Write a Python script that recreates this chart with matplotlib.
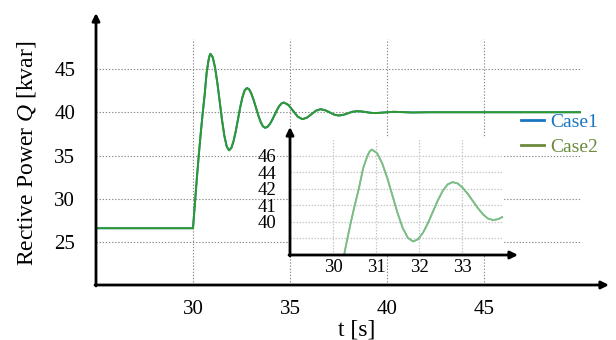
import matplotlib
matplotlib.use("Agg")
import matplotlib.pyplot as plt
from matplotlib.lines import Line2D
from matplotlib.patches import FancyArrowPatch

plt.rcParams['font.family'] = ['Liberation Serif', 'DejaVu Serif']
plt.rcParams['mathtext.fontset'] = 'custom'
plt.rcParams['mathtext.rm'] = 'Liberation Serif'
plt.rcParams['mathtext.it'] = 'Liberation Serif:italic'

# ---- data ----
t = [25.0, 30.0, 30.1, 30.2, 30.3, 30.4, 30.5, 30.6, 30.7, 30.8, 30.85, 30.9,
     31.02, 31.14, 31.26, 31.38, 31.50, 31.62, 31.74, 31.86,
     31.975, 32.09, 32.205, 32.32, 32.435, 32.55, 32.665, 32.78,
     32.90, 33.01, 33.13, 33.25, 33.37, 33.49, 33.60, 33.72,
     33.84, 33.96, 34.08, 34.20, 34.32, 34.44, 34.56, 34.68,
     34.92, 35.16, 35.40, 35.64,
     35.87, 36.11, 36.34, 36.57,
     36.80, 37.04, 37.27, 37.50,
     37.74, 37.98, 38.21, 38.45,
     38.69, 38.93, 39.16, 39.40,
     39.88, 40.35, 40.83, 41.30, 42.20, 50.0]
q_case1 = [26.6, 26.6, 29.5, 32.4, 35.1, 37.6, 39.9, 42.0, 44.5, 46.0, 46.5, 46.75,
           46.33, 45.12, 43.31, 41.18, 39.04, 37.23, 36.03, 35.6,
           35.87, 36.65, 37.82, 39.2, 40.58, 41.75, 42.53, 42.8,
           42.63, 42.13, 41.38, 40.5, 39.62, 38.87, 38.38, 38.2,
           38.31, 38.63, 39.10, 39.66, 40.22, 40.69, 41.01, 41.12,
           40.84, 40.16, 39.48, 39.2,
           39.37, 39.78, 40.18, 40.35,
           40.24, 39.99, 39.73, 39.62,
           39.69, 39.87, 40.05, 40.12,
           40.09, 40.01, 39.93, 39.90,
           39.975, 40.05, 40.01, 39.97, 40.0, 40.0]
q_case2 = list(q_case1)

series_labels = ['Case1', 'Case2']
x_ticks = [30, 35, 40, 45]
y_ticks = [25, 30, 35, 40, 45]
inset_x_ticks = [30, 31, 32, 33]
inset_y_ticks = [36, 38, 40, 42, 44, 46]
inset_y_labels = ['', '40', '41', '42', '44', '46']

W, H = 616, 340
fig = plt.figure(figsize=(W / 100, H / 100), dpi=100)

def fx(px):
    return px / W

def fy(py):
    return 1 - py / H

# ---- main axes ----
L, R, T, B = 96, 581, 39, 285
ax = fig.add_axes([fx(L), fy(B), fx(R) - fx(L), fy(T) - fy(B)])
ax.plot(t, q_case1, color='#1f77c4', lw=1.4, zorder=2)
ax.plot(t, q_case2, color='#2e9a2e', lw=1.4, zorder=3)
ax.set_xlim(25, 50)
ax.set_ylim(20.04, 48.46)
ax.set_xticks(x_ticks)
ax.set_yticks(y_ticks)
ax.tick_params(length=0, labelsize=15)
ax.tick_params(axis='x', pad=11)
ax.tick_params(axis='y', pad=15)
ax.grid(True, color='#8a8a8a', lw=0.8, linestyle=(0, (1.2, 1.6)))
for s in ax.spines.values():
    s.set_visible(False)

# axes arrows
arrow_kw = dict(arrowstyle='-|>', lw=2, color='k', mutation_scale=11,
                shrinkA=0, shrinkB=0)
fig.add_artist(FancyArrowPatch(
    (fx(95), fy(B)), (fx(609), fy(B)), transform=fig.transFigure, **arrow_kw))
fig.add_artist(FancyArrowPatch(
    (fx(L), fy(B + 1)), (fx(L), fy(13)), transform=fig.transFigure, **arrow_kw))

fig.text(fx(357), fy(330), 't [s]', fontsize=17, ha='center', va='center')
fig.text(fx(27), fy(153), 'Rective Power $Q$ [kvar]', fontsize=17,
         ha='center', va='center', rotation=90)

# legend
handles = [Line2D([], [], color='#1a76c2', lw=2),
           Line2D([], [], color='#6b8a3c', lw=2)]
leg = fig.legend(handles, series_labels, loc='upper left',
                 bbox_to_anchor=(fx(521), fy(113)), frameon=False,
                 fontsize=14, handlelength=1.2, handletextpad=0.28,
                 labelspacing=0.38, borderpad=0, borderaxespad=0,
                 labelcolor='linecolor')

# ---- inset ----
iL, iR, iT, iB = 290, 503, 138, 255
ax2 = fig.add_axes([fx(iL), fy(iB), fx(iR) - fx(iL), fy(iT) - fy(iB)], zorder=5)
ax2.set_facecolor('white')
ax2.plot(t, q_case1, color='#7fb0d8', lw=1.2)
ax2.plot(t, q_case2, color='#7cc07c', lw=1.3)
ax2.set_xlim(29.0, 33.95)
ax2.set_ylim(33.96, 48.15)
ax2.set_xticks(inset_x_ticks)
ax2.set_yticks(inset_y_ticks)
ax2.set_yticklabels(inset_y_labels)
ax2.tick_params(length=0, labelsize=13.5)
ax2.tick_params(axis='x', pad=3)
ax2.tick_params(axis='y', pad=10)
ax2.grid(True, color='#c8c8c8', lw=0.9, linestyle=(0, (1.2, 1.2)))
for s in ax2.spines.values():
    s.set_visible(False)

arrow_kw2 = dict(arrowstyle='-|>', lw=2, color='k', mutation_scale=11,
                 shrinkA=0, shrinkB=0, zorder=10)
fig.add_artist(FancyArrowPatch(
    (fx(iL - 1), fy(iB)), (fx(518), fy(iB)), transform=fig.transFigure, **arrow_kw2))
fig.add_artist(FancyArrowPatch(
    (fx(iL), fy(iB + 1)), (fx(iL), fy(127)), transform=fig.transFigure, **arrow_kw2))

fig.savefig('out.png', dpi=100)
